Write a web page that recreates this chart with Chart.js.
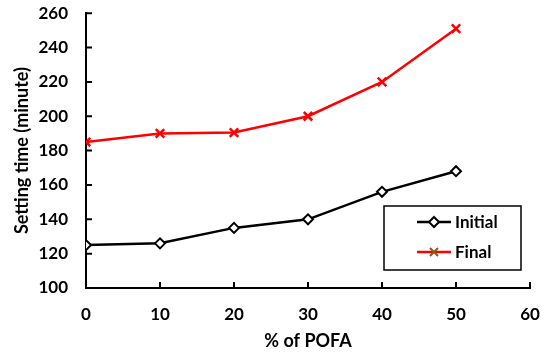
<!DOCTYPE html>
<html>
<head>
<meta charset="utf-8">
<script src="https://cdn.jsdelivr.net/npm/chart.js@4"></script>
<style>
  body { margin: 0; background: #fff; }
  #wrap { width: 550px; height: 356px; }
</style>
</head>
<body>
<div id="wrap"><canvas id="myChart"></canvas></div>
<script>
  // The set up block
  const pofa = [0, 10, 20, 30, 40, 50];
  const initialTime = [125, 126, 135, 140, 156, 168];
  const finalTime = [185, 190, 190.5, 200, 220, 251];
  const xTicks = [0, 10, 20, 30, 40, 50, 60];
  const yTicks = [100, 120, 140, 160, 180, 200, 220, 240, 260];

  const fontFamily = "Lato, 'Open Sans', sans-serif";

  // inward tick marks, drawn from the scales
  const innerTicks = {
    id: 'innerTicks',
    afterDraw(chart) {
      const ctx = chart.ctx;
      const xs = chart.scales.x;
      const ys = chart.scales.y;
      ctx.save();
      ctx.strokeStyle = '#000';
      ctx.lineWidth = 2;
      ctx.beginPath();
      xTicks.forEach(v => {
        const px = xs.getPixelForValue(v);
        ctx.moveTo(px, ys.bottom);
        ctx.lineTo(px, ys.bottom - 6);
      });
      yTicks.forEach(v => {
        const py = ys.getPixelForValue(v);
        ctx.moveTo(xs.left, py);
        ctx.lineTo(xs.left + 6, py);
      });
      ctx.stroke();
      ctx.restore();
    }
  };

  // boxed legend inside the plot, lower right
  const boxLegend = {
    id: 'boxLegend',
    afterDraw(chart) {
      const ctx = chart.ctx;
      const a = chart.chartArea;
      const bx = a.right - 146, by = a.bottom - 82, bw = 137, bh = 64;
      ctx.save();
      ctx.fillStyle = '#fff';
      ctx.fillRect(bx, by, bw, bh);
      ctx.strokeStyle = '#000';
      ctx.lineWidth = 1.5;
      ctx.strokeRect(bx, by, bw, bh);
      ctx.font = 'bold 17px ' + fontFamily;
      ctx.textBaseline = 'middle';
      chart.data.datasets.forEach((ds, i) => {
        const cy = by + 16 + i * 30;
        const lx = bx + 33;
        ctx.strokeStyle = ds.borderColor;
        ctx.lineWidth = 2.5;
        ctx.beginPath();
        ctx.moveTo(lx, cy);
        ctx.lineTo(lx + 34, cy);
        ctx.stroke();
        const mx = lx + 17;
        if (i === 0) {
          ctx.lineWidth = 2;
          ctx.fillStyle = '#fff';
          ctx.beginPath();
          ctx.moveTo(mx, cy - 5);
          ctx.lineTo(mx + 5, cy);
          ctx.lineTo(mx, cy + 5);
          ctx.lineTo(mx - 5, cy);
          ctx.closePath();
          ctx.fill();
          ctx.stroke();
        } else {
          ctx.strokeStyle = '#8a5a1c';
          ctx.lineWidth = 2;
          ctx.beginPath();
          ctx.moveTo(mx - 4, cy - 4);
          ctx.lineTo(mx + 4, cy + 4);
          ctx.moveTo(mx + 4, cy - 4);
          ctx.lineTo(mx - 4, cy + 4);
          ctx.stroke();
        }
        ctx.fillStyle = '#000';
        ctx.fillText(ds.label, lx + 38, cy + 1);
      });
      ctx.restore();
    }
  };

  const data = {
    datasets: [{
      label: 'Initial',
      data: pofa.map((x, i) => ({ x: x, y: initialTime[i] })),
      borderColor: '#000',
      backgroundColor: '#fff',
      borderWidth: 2.5,
      pointStyle: 'rectRot',
      pointRadius: 5,
      pointBorderWidth: 2,
      pointBackgroundColor: '#fff',
      pointBorderColor: '#000'
    }, {
      label: 'Final',
      data: pofa.map((x, i) => ({ x: x, y: finalTime[i] })),
      borderColor: '#ff0000',
      backgroundColor: '#ff0000',
      borderWidth: 2.5,
      pointStyle: 'crossRot',
      pointRadius: 6,
      pointBorderWidth: 2.5,
      pointBorderColor: '#ff0000'
    }]
  };

  const config = {
    type: 'line',
    data: data,
    options: {
      responsive: true,
      maintainAspectRatio: false,
      animation: false,
      layout: { padding: { top: 0, right: 20, left: 0, bottom: 0 } },
      plugins: {
        legend: { display: false },
        tooltip: { enabled: false }
      },
      scales: {
        x: {
          type: 'linear',
          min: 0,
          max: 60,
          afterBuildTicks: s => { s.ticks = xTicks.map(v => ({ value: v })); },
          afterFit: s => { s.height = 68; },
          grid: { display: false },
          border: { color: '#000', width: 2 },
          ticks: {
            color: '#000',
            padding: 8,
            maxRotation: 0,
            font: { family: fontFamily, size: 17, weight: 'bold' }
          },
          title: {
            display: true,
            text: '% of POFA',
            color: '#000',
            padding: { top: 2 },
            font: { family: fontFamily, size: 18, weight: 'bold' }
          }
        },
        y: {
          min: 100,
          max: 260,
          afterBuildTicks: s => { s.ticks = yTicks.map(v => ({ value: v })); },
          afterFit: s => { s.width = 86; },
          grid: {
            display: true,
            drawOnChartArea: false,
            drawTicks: true,
            tickLength: 15,
            tickColor: 'rgba(0,0,0,0)'
          },
          border: { color: '#000', width: 2 },
          ticks: {
            color: '#000',
            padding: 3,
            font: { family: fontFamily, size: 17, weight: 'bold' }
          },
          title: {
            display: true,
            text: 'Setting time (minute)',
            color: '#000',
            padding: { top: 11, bottom: 0 },
            font: { family: fontFamily, size: 18, weight: 'bold' }
          }
        }
      }
    },
    plugins: [innerTicks, boxLegend]
  };

  const myChart = new Chart(document.getElementById('myChart'), config);
</script>
</body>
</html>
